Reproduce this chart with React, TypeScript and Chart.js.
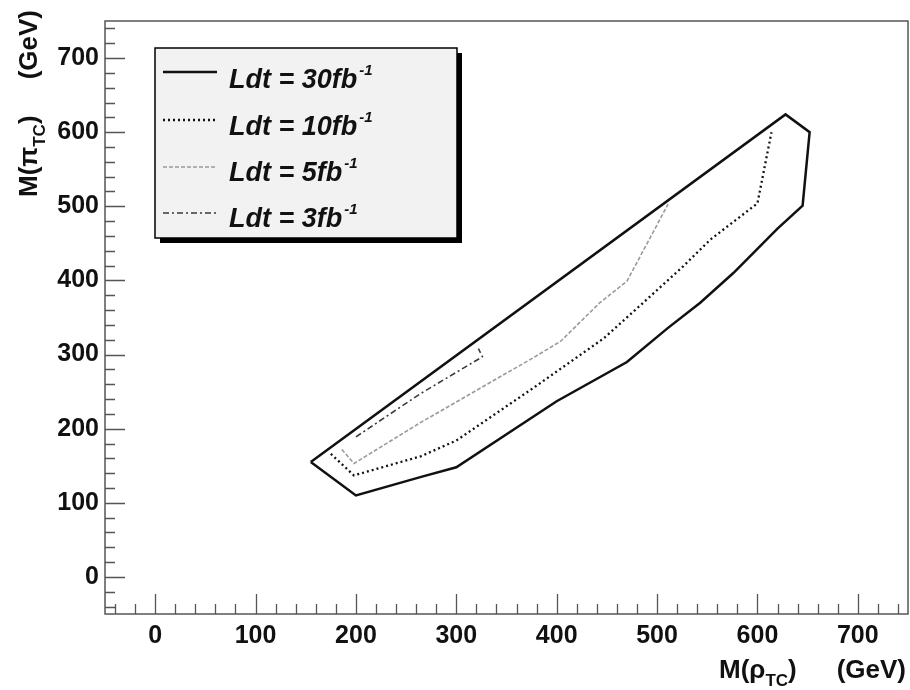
import React, { useEffect, useRef } from "react";
import { Chart, registerables } from "chart.js";

Chart.register(...registerables);

// ---- data (GeV) ----
const lum30X = [155, 200, 265, 300, 400, 470, 510, 543, 576, 620, 645, 652, 628, 155];
const lum30Y = [155, 110, 135, 148, 237, 290, 335, 370, 410, 470, 501, 600, 624, 155];

const lum10X = [175, 198, 265, 300, 380, 447, 483, 526, 553, 600, 614];
const lum10Y = [166, 137, 163, 184, 258, 322, 366, 419, 455, 504, 600];

const lum5X = [186, 198, 264, 377, 404, 443, 470, 511];
const lum5Y = [172, 153, 208, 296, 318, 370, 399, 503];

const lum3X = [200, 264, 326, 322];
const lum3Y = [189, 247, 297, 308];

const xTickValues = [0, 100, 200, 300, 400, 500, 600, 700];
const yTickValues = [0, 100, 200, 300, 400, 500, 600, 700];
const axisMin = -50;
const axisMax = 750;

const legendLabels = ["Ldt = 30fb", "Ldt = 10fb", "Ldt = 5fb", "Ldt = 3fb"];
const legendExponent = "-1";

const xTitleMain = "M(\u03c1";
const yTitleMain = "M(\u03c0";
const titleSub = "TC";
const titleUnit = "(GeV)";

const FONT = "'Liberation Sans', Arial, Helvetica, sans-serif";

const seriesStyles = [
  { color: "#111111", width: 2.5, dash: [] as number[] },
  { color: "#111111", width: 2.3, dash: [2, 3] },
  { color: "#9a9a9a", width: 1.6, dash: [4, 2] },
  { color: "#3a3a3a", width: 1.6, dash: [6, 3, 2, 3] },
];

const toPoints = (xs: number[], ys: number[]) => xs.map((x, i) => ({ x, y: ys[i] }));

const framePlugin = {
  id: "rootFrame",
  afterDatasetsDraw(chart: any) {
    const { ctx, chartArea: a, scales } = chart;
    const x = scales.x;
    const y = scales.y;
    ctx.save();
    ctx.strokeStyle = "#555";
    ctx.lineWidth = 1.5;
    ctx.strokeRect(a.left, a.top, a.right - a.left, a.bottom - a.top);
    ctx.lineWidth = 1.3;
    ctx.beginPath();
    for (let v = -40; v <= 740; v += 20) {
      const major = v % 100 === 0;
      const len = major ? 20 : 10;
      const px = Math.round(x.getPixelForValue(v)) + 0.5;
      ctx.moveTo(px, a.bottom);
      ctx.lineTo(px, a.bottom - len);
      const py = Math.round(y.getPixelForValue(v)) + 0.5;
      ctx.moveTo(a.left, py);
      ctx.lineTo(a.left + len, py);
    }
    ctx.stroke();
    ctx.restore();
  },
};

const titlePlugin = {
  id: "rootTitles",
  afterDraw(chart: any) {
    const { ctx } = chart;
    ctx.save();
    ctx.fillStyle = "#111";
    ctx.textBaseline = "alphabetic";
    const mainFont = `bold 26px ${FONT}`;
    const subFont = `bold 17px ${FONT}`;

    const drawTitle = (startX: number, baseY: number, main: string, endX: number) => {
      ctx.textAlign = "left";
      ctx.font = mainFont;
      ctx.fillText(main, startX, baseY);
      let cx = startX + ctx.measureText(main).width;
      ctx.font = subFont;
      ctx.fillText(titleSub, cx, baseY + 8);
      cx += ctx.measureText(titleSub).width;
      ctx.font = mainFont;
      ctx.fillText(")", cx, baseY);
      ctx.textAlign = "right";
      ctx.fillText(titleUnit, endX, baseY);
    };

    // x title
    drawTitle(719, 678, xTitleMain, 906);

    // y title (rotated)
    ctx.save();
    ctx.translate(37, 197);
    ctx.rotate(-Math.PI / 2);
    drawTitle(0, 0, yTitleMain, 187);
    ctx.restore();

    ctx.restore();
  },
};

const legendPlugin = {
  id: "rootLegend",
  afterDraw(chart: any) {
    const { ctx } = chart;
    const L = 155, T = 48, W = 302, H = 190;
    ctx.save();
    ctx.fillStyle = "#000";
    ctx.fillRect(L + 5, T + 5, W, H);
    ctx.fillStyle = "#f2f2f2";
    ctx.fillRect(L, T, W, H);
    ctx.strokeStyle = "#000";
    ctx.lineWidth = 1.5;
    ctx.strokeRect(L, T, W, H);

    const sampleY = [72, 120, 167, 213];
    const textBase = [88, 135, 181, 227];
    legendLabels.forEach((label, i) => {
      const s = seriesStyles[i];
      ctx.save();
      ctx.strokeStyle = s.color;
      ctx.lineWidth = s.width;
      ctx.setLineDash(s.dash);
      ctx.beginPath();
      ctx.moveTo(163, sampleY[i]);
      ctx.lineTo(217, sampleY[i]);
      ctx.stroke();
      ctx.restore();

      ctx.fillStyle = "#111";
      ctx.textAlign = "left";
      ctx.textBaseline = "alphabetic";
      ctx.font = `italic bold 27px ${FONT}`;
      ctx.fillText(label, 229, textBase[i]);
      const w = ctx.measureText(label).width;
      ctx.font = `italic bold 15px ${FONT}`;
      ctx.fillText(legendExponent, 229 + w + 2, textBase[i] - 13);
    });
    ctx.restore();
  },
};

const whiteBg = {
  id: "whiteBg",
  beforeDraw(chart: any) {
    const { ctx, width, height } = chart;
    ctx.save();
    ctx.fillStyle = "#fff";
    ctx.fillRect(0, 0, width, height);
    ctx.restore();
  },
};

export default function App() {
  const ref = useRef<HTMLCanvasElement | null>(null);

  useEffect(() => {
    if (!ref.current) return;
    const series = [
      toPoints(lum30X, lum30Y),
      toPoints(lum10X, lum10Y),
      toPoints(lum5X, lum5Y),
      toPoints(lum3X, lum3Y),
    ];
    const chart = new Chart(ref.current, {
      type: "scatter",
      data: {
        datasets: series.map((data, i) => ({
          label: legendLabels[i],
          data,
          showLine: true,
          pointRadius: 0,
          pointHoverRadius: 0,
          borderColor: seriesStyles[i].color,
          backgroundColor: seriesStyles[i].color,
          borderWidth: seriesStyles[i].width,
          borderDash: seriesStyles[i].dash,
          tension: 0,
          fill: false,
        })),
      },
      options: {
        animation: false,
        responsive: false,
        devicePixelRatio: 1,
        layout: { padding: { top: 10, right: 2, left: 0, bottom: 0 } },
        plugins: {
          legend: { display: false },
          tooltip: { enabled: false },
        },
        scales: {
          x: {
            type: "linear",
            min: axisMin,
            max: axisMax,
            grid: { display: false, drawTicks: false },
            border: { display: false },
            afterBuildTicks: (s: any) => {
              s.ticks = xTickValues.map((v) => ({ value: v }));
            },
            afterFit: (s: any) => {
              s.height = 76;
            },
            ticks: {
              padding: 7,
              color: "#111",
              font: { family: FONT, size: 25, weight: "bold" },
              maxRotation: 0,
              autoSkip: false,
            },
          },
          y: {
            type: "linear",
            min: axisMin,
            max: axisMax,
            grid: { display: false, drawTicks: false },
            border: { display: false },
            afterBuildTicks: (s: any) => {
              s.ticks = yTickValues.map((v) => ({ value: v }));
            },
            afterFit: (s: any) => {
              s.width = 105;
            },
            ticks: {
              padding: 6,
              color: "#111",
              font: { family: FONT, size: 25, weight: "bold" },
              autoSkip: false,
            },
          },
        },
      },
      plugins: [whiteBg, framePlugin, titlePlugin, legendPlugin],
    } as any);
    return () => chart.destroy();
  }, []);

  return (
    <div style={{ position: "absolute", left: 0, top: 0, width: 910, height: 690 }}>
      <canvas ref={ref} width={910} height={690} style={{ width: 910, height: 690, display: "block" }} />
    </div>
  );
}
